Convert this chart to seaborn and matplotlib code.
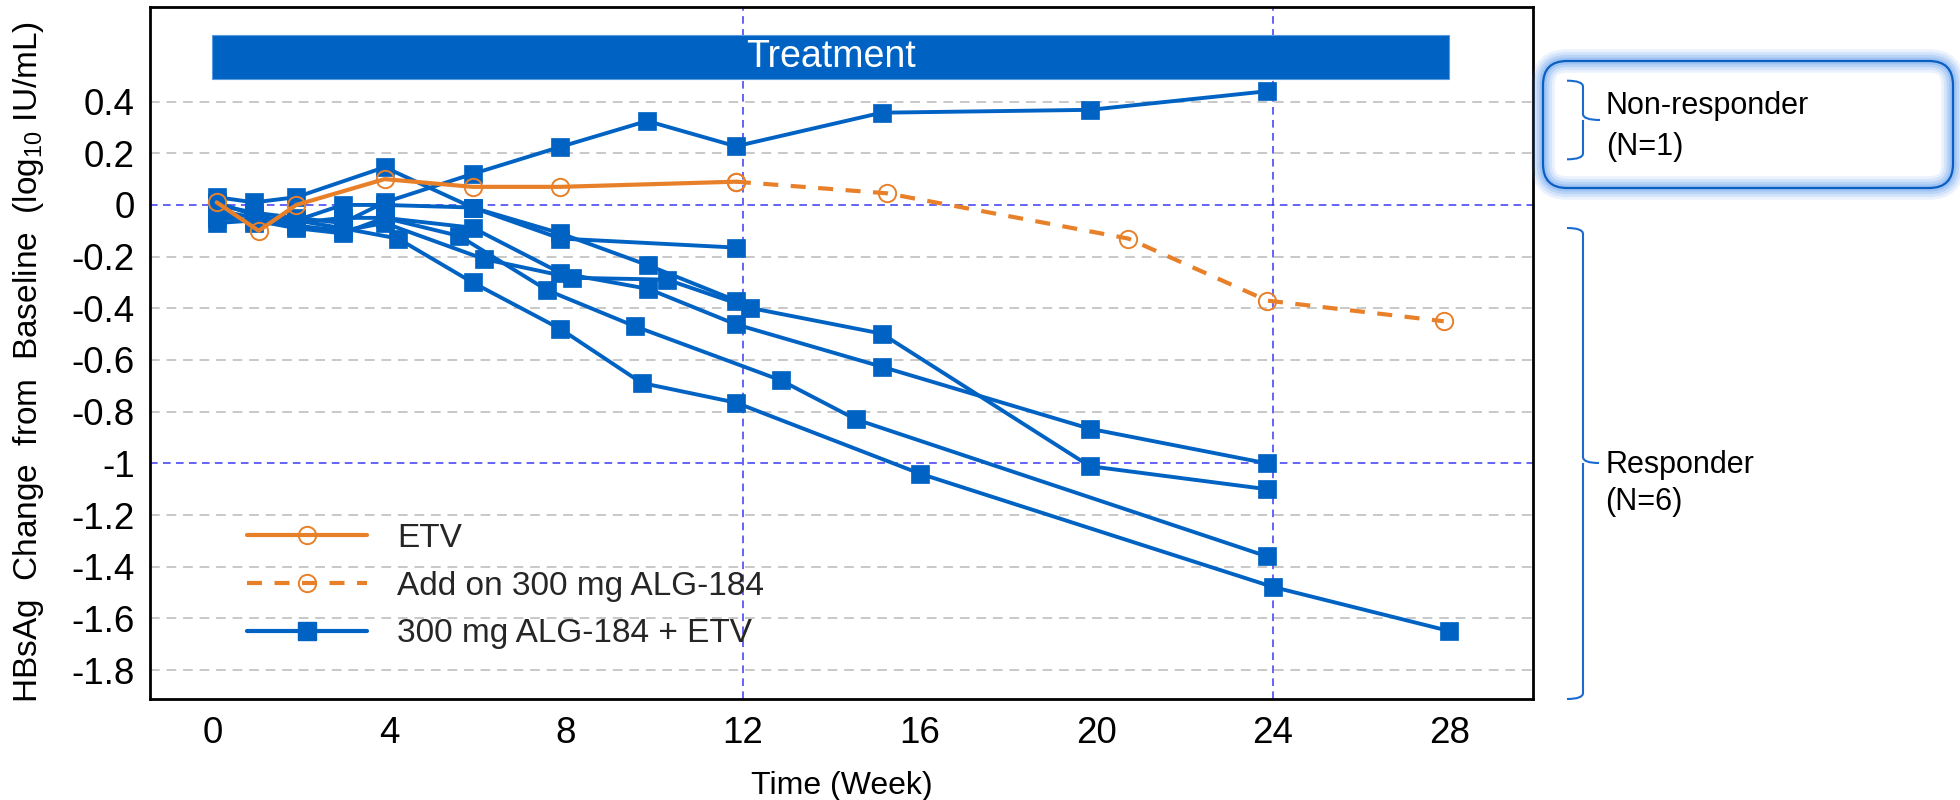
import numpy as np
import pandas as pd
import matplotlib
matplotlib.use("Agg")
import matplotlib.pyplot as plt
import seaborn as sns
from matplotlib.lines import Line2D
from matplotlib.patches import FancyBboxPatch, Rectangle, PathPatch
from matplotlib.path import Path
from matplotlib.transforms import IdentityTransform

# ---------------- data ----------------
etv_weeks = [0.1, 1.05, 1.9, 3.9, 5.89, 7.88, 11.85]
etv_chg = [0.01, -0.10, 0.0, 0.10, 0.07, 0.07, 0.09]

addon_weeks = [11.85, 15.27, 20.73, 23.87, 27.87]
addon_chg = [0.09, 0.045, -0.13, -0.37, -0.45]

pA_weeks = [0.1, 0.95, 1.9, 2.95, 3.9, 5.89, 7.88, 9.84, 11.85, 15.15, 19.86, 23.87]
pA_chg = [0.0, -0.03, -0.05, -0.07, 0.01, 0.12, 0.225, 0.325, 0.227, 0.357, 0.368, 0.44]
pB_weeks = [0.1, 0.95, 1.9, 3.9, 5.89, 7.88, 11.85]
pB_chg = [0.03, 0.01, 0.03, 0.146, -0.01, -0.13, -0.165]
pC_weeks = [0.1, 0.95, 1.9, 2.95, 3.9, 5.89, 7.88, 9.87, 11.85]
pC_chg = [-0.02, -0.05, -0.06, 0.0, 0.0, -0.01, -0.11, -0.234, -0.37]
pD_weeks = [0.1, 0.95, 1.9, 2.95, 3.9, 6.16, 8.15, 10.29, 12.16, 15.15, 19.86, 23.87]
pD_chg = [-0.05, -0.06, -0.08, -0.10, -0.07, -0.21, -0.282, -0.289, -0.398, -0.498, -1.011, -1.10]
pE_weeks = [0.1, 0.95, 1.9, 2.95, 3.9, 5.89, 7.88, 9.87, 11.85, 15.15, 19.86, 23.87]
pE_chg = [0.01, -0.04, -0.07, -0.05, -0.05, -0.088, -0.263, -0.325, -0.462, -0.626, -0.866, -1.0]
pF_weeks = [0.1, 0.95, 1.9, 2.95, 3.9, 5.59, 7.58, 9.57, 12.86, 14.57, 23.87]
pF_chg = [-0.07, -0.06, -0.09, -0.11, -0.05, -0.12, -0.33, -0.47, -0.678, -0.83, -1.36]
pG_weeks = [0.1, 0.95, 1.9, 2.95, 4.2, 5.89, 7.88, 9.72, 11.85, 16.02, 24.0, 28.0]
pG_chg = [-0.03, -0.07, -0.06, -0.09, -0.13, -0.30, -0.48, -0.689, -0.765, -1.04, -1.478, -1.649]

x_ticks = [0, 4, 8, 12, 16, 20, 24, 28]
y_ticks = [0.4, 0.2, 0, -0.2, -0.4, -0.6, -0.8, -1, -1.2, -1.4, -1.6, -1.8]
y_ticklabels = ["0.4", "0.2", "0", "-0.2", "-0.4", "-0.6", "-0.8", "-1", "-1.2", "-1.4", "-1.6", "-1.8"]
legend_labels = ["ETV", "Add on 300 mg ALG-184", "300 mg ALG-184 + ETV"]

# ---------------- style ----------------
sns.set_theme(style="white")
plt.rcParams["font.family"] = ["Liberation Sans", "DejaVu Sans"]
plt.rcParams["mathtext.fontset"] = "custom"
plt.rcParams["mathtext.rm"] = "Liberation Sans"
plt.rcParams["mathtext.it"] = "Liberation Sans:italic"
plt.rcParams["axes.unicode_minus"] = False

BLUE = "#0063C3"
ORANGE = "#E8802A"
GRID = "#C8C8C8"
REF = "#3B3BF5"

W, H = 1960, 800
fig = plt.figure(figsize=(W / 100, H / 100), dpi=100)
ax = fig.add_axes([150 / W, 1 - 699.3 / H, (1533 - 150) / W, (699.3 - 7) / H])

pats = {"A": (pA_weeks, pA_chg), "B": (pB_weeks, pB_chg), "C": (pC_weeks, pC_chg),
        "D": (pD_weeks, pD_chg), "E": (pE_weeks, pE_chg), "F": (pF_weeks, pF_chg),
        "G": (pG_weeks, pG_chg)}
blue_df = pd.concat([pd.DataFrame({"week": w, "chg": c, "pid": k}) for k, (w, c) in pats.items()],
                    ignore_index=True)
etv_df = pd.DataFrame({"week": etv_weeks, "chg": etv_chg})
addon_df = pd.DataFrame({"week": addon_weeks, "chg": addon_chg})

# grid / reference lines
for yv in y_ticks:
    if yv in (0, -1):
        ax.axhline(yv, color=REF, lw=1.1, dashes=(5, 3.5), zorder=1)
    else:
        ax.axhline(yv, color=GRID, lw=1.4, dashes=(5, 3.5), zorder=1)
for xv in (12, 24):
    ax.axvline(xv, color=REF, lw=1.1, dashes=(5, 3.5), zorder=1)

sns.lineplot(data=blue_df, x="week", y="chg", units="pid", estimator=None, sort=False,
             color=BLUE, lw=2.8, marker="s", markersize=13, markeredgecolor=BLUE,
             markeredgewidth=0.5, legend=False, ax=ax, zorder=3)
sns.lineplot(data=addon_df, x="week", y="chg", sort=False, color=ORANGE, lw=3.0,
             linestyle=(0, (3.6, 3.0)), marker="o", markersize=12.5, markerfacecolor="none",
             markeredgecolor=ORANGE, markeredgewidth=1.4, legend=False, ax=ax, zorder=4)
sns.lineplot(data=etv_df, x="week", y="chg", sort=False, color=ORANGE, lw=3.0,
             marker="o", markersize=12.5, markerfacecolor="none",
             markeredgecolor=ORANGE, markeredgewidth=1.4, legend=False, ax=ax, zorder=5)

# treatment bar
ax.add_patch(Rectangle((0, 0.489), 28, 0.168, facecolor=BLUE, edgecolor="#5A9BE0", lw=0.8, zorder=2))
ax.text(14, 0.573, "Treatment", color="white", fontsize=27, ha="center", va="center", zorder=6)

ax.set_xlim(-1.41, 29.89)
ax.set_ylim(-1.913, 0.766)
ax.set_xticks(x_ticks)
ax.set_xticklabels([str(t) for t in x_ticks])
ax.set_yticks(y_ticks)
ax.set_yticklabels(y_ticklabels)
ax.tick_params(axis="both", direction="out", length=6, width=1.8, color="#222222",
               labelsize=26.5, labelcolor="black")
ax.tick_params(axis="x", pad=6)
ax.tick_params(axis="y", pad=5)
for s in ax.spines.values():
    s.set_color("black")
    s.set_linewidth(2.0)

ax.set_xlabel("Time (Week)", fontsize=23, color="black")
ax.set_ylabel(r"HBsAg  Change  from  Baseline  (log$_{\mathregular{10}}$ IU/mL)", fontsize=24, color="black")
ax.xaxis.set_label_coords(0.5, -0.103)
ax.yaxis.set_label_coords(-0.075, 0.487)

# legend
handles = [
    Line2D([], [], color=ORANGE, lw=3.0, marker="o", ms=12.5, mfc="none", mec=ORANGE, mew=1.4),
    Line2D([], [], color=ORANGE, lw=3.0, linestyle=(0, (3.6, 3.0)), marker="o", ms=12.5, mfc="none",
           mec=ORANGE, mew=1.4),
    Line2D([], [], color=BLUE, lw=3.0, marker="s", ms=13, mec=BLUE),
]
fig.legend(handles, legend_labels, loc="upper left", bbox_to_anchor=(247 / W, 1 - 523 / H),
           frameon=False, fontsize=24, handlelength=3.6, handletextpad=0.9, labelspacing=0.5,
           borderpad=0, borderaxespad=0)

# ---------------- right-side annotations (pixel coords) ----------------
idt = IdentityTransform()


def bracket(x0, xs, xt, ytop, ybot, ymid, r=6):
    Y = lambda y: H - y
    verts = [(x0, Y(ytop)), (xs, Y(ytop)), (xs, Y(ytop + r)),
             (xs, Y(ymid - r)), (xs, Y(ymid)), (xt, Y(ymid)),
             (xs, Y(ymid)), (xs, Y(ymid + r)),
             (xs, Y(ybot - r)), (xs, Y(ybot)), (x0, Y(ybot))]
    codes = [Path.MOVETO, Path.CURVE3, Path.CURVE3,
             Path.LINETO, Path.CURVE3, Path.LINETO,
             Path.MOVETO, Path.LINETO,
             Path.LINETO, Path.CURVE3, Path.CURVE3]
    fig.add_artist(PathPatch(Path(verts, codes), fill=False, edgecolor="#1A6AD0", lw=1.5,
                             transform=idt))


bx0, by0, bx1, by1 = 1543, 61, 1953, 188
for lw_, a_ in [(17, 0.12), (13, 0.16), (9, 0.22), (5, 0.3)]:
    fig.add_artist(FancyBboxPatch((bx0, H - by1), bx1 - bx0, by1 - by0,
                                  boxstyle="round,pad=0,rounding_size=24", fill=False,
                                  edgecolor="#5E9CF0", lw=lw_, alpha=a_, transform=idt))
fig.add_artist(FancyBboxPatch((bx0, H - by1), bx1 - bx0, by1 - by0,
                              boxstyle="round,pad=0,rounding_size=24", fill=False,
                              edgecolor="#0B5FC0", lw=1.6, transform=idt))

bracket(1567, 1583, 1600, 80.7, 159.3, 120)
bracket(1567, 1583, 1599, 228, 699, 463)

for txt, yy in [("Non-responder", 105.7), ("(N=1)", 146.7)]:
    fig.text(1606, H - yy, txt, transform=idt, fontsize=22, ha="left", va="center", color="black")
for txt, yy in [("Responder", 465), ("(N=6)", 502)]:
    fig.text(1605, H - yy, txt, transform=idt, fontsize=22, ha="left", va="center", color="black")

fig.savefig("out.png", dpi=100, facecolor="white")
